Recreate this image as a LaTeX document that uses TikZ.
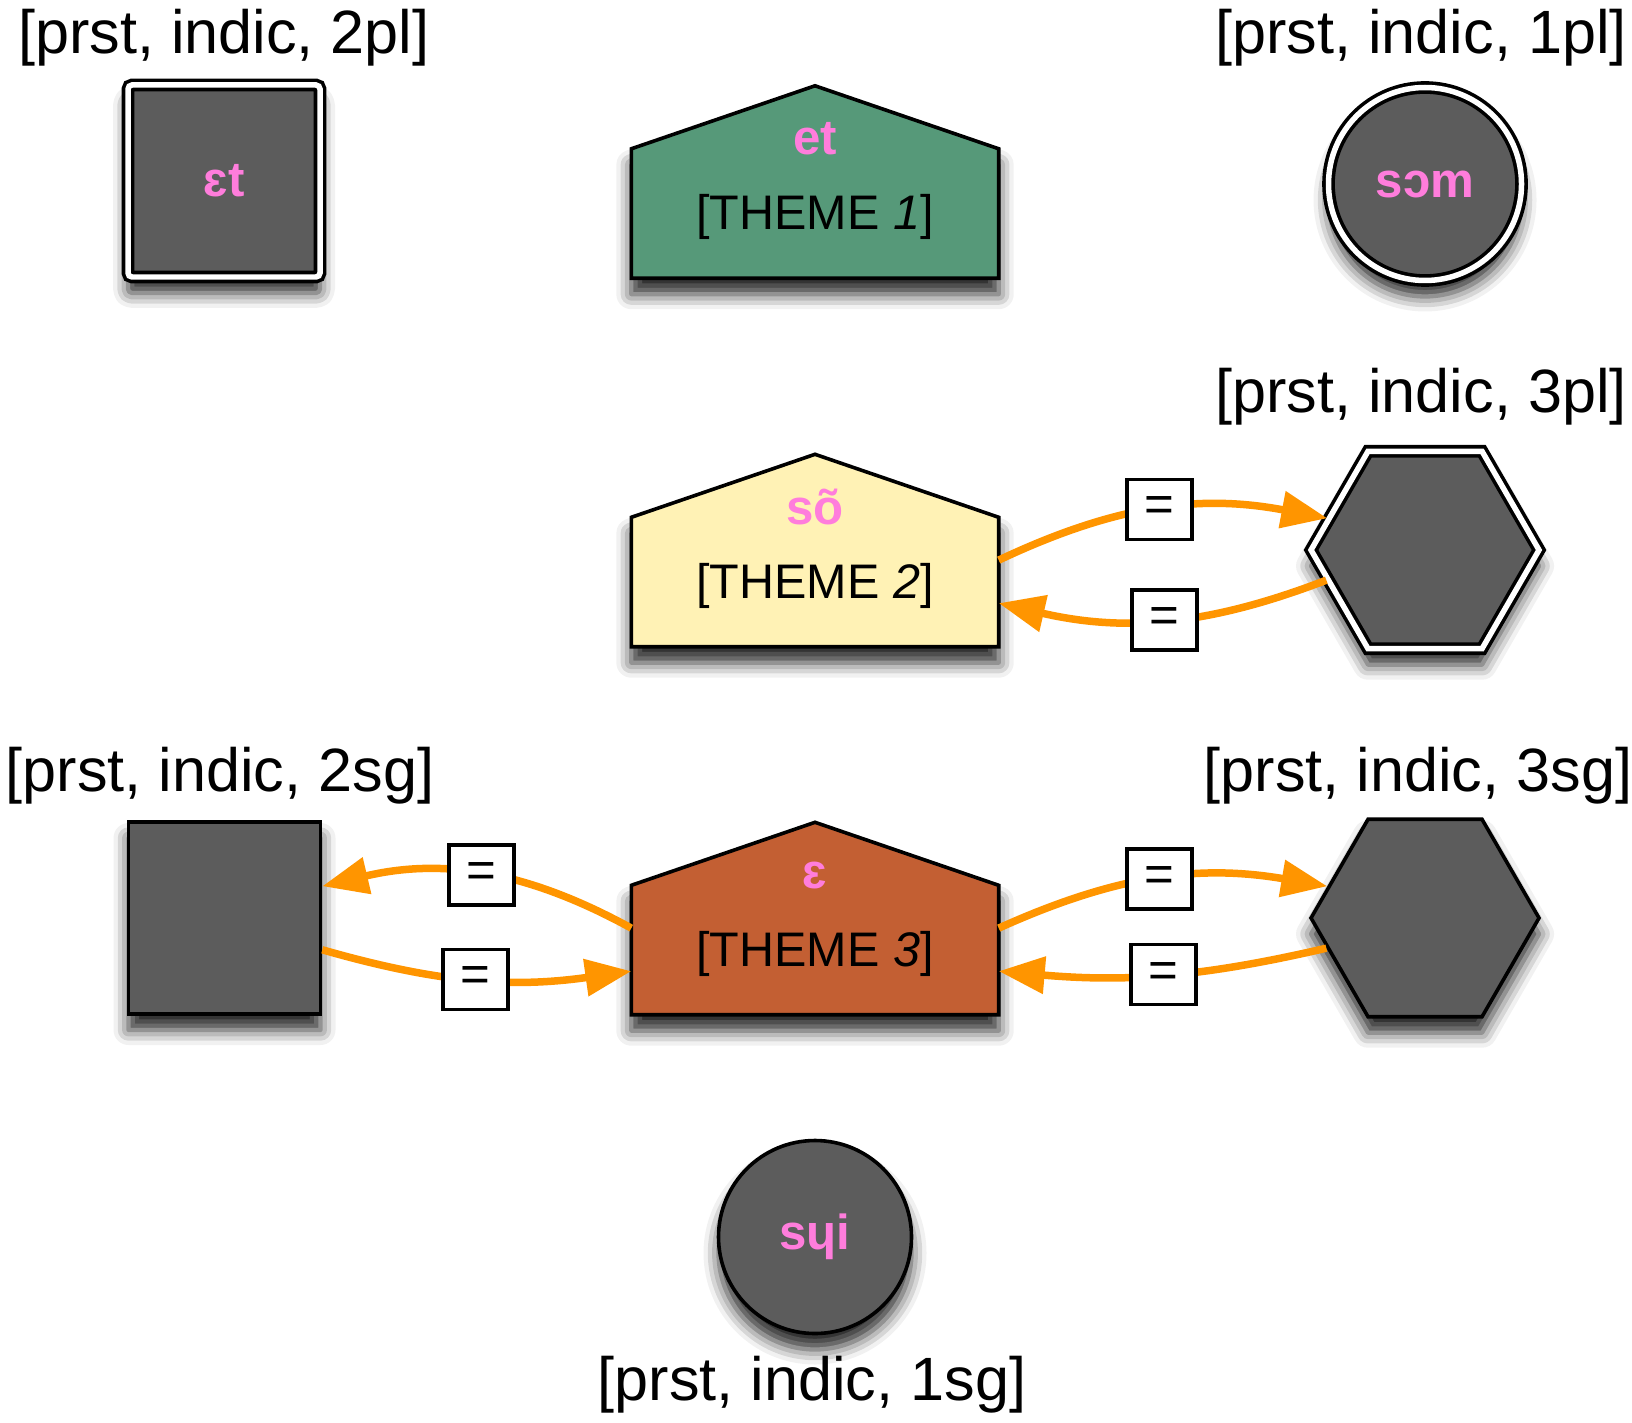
\documentclass[tikz,border=0pt]{standalone}
\usepackage{fontspec}
\setmainfont{Liberation Sans}
\usepackage{tikz}
\usetikzlibrary{arrows.meta,shapes.geometric,shadows.blur}

\definecolor{slate}{RGB}{92,92,92}
\definecolor{themegreen}{RGB}{86,153,121}
\definecolor{themeyellow}{RGB}{255,242,181}
\definecolor{themerust}{RGB}{195,95,51}
\definecolor{stempink}{RGB}{255,125,220}
\definecolor{linkorange}{RGB}{255,149,0}

\begin{document}
\begin{tikzpicture}[>={Triangle[length=4.6mm,width=3.6mm]},
		softshadow/.style={blur shadow={shadow xshift=0cm,shadow yshift=-0.16cm,shadow blur radius=0.15cm,shadow opacity=85}},
		cell/.style={draw=black,line width=0.036cm,fill=slate,inner sep=0pt,softshadow},
		twin/.style={double=white,double distance=0.055cm},
		block/.style={rectangle,cell,minimum width=1.92cm,minimum height=1.92cm},
		disc/.style={circle,cell,minimum size=1.93cm},
		hexa/.style={regular polygon,regular polygon sides=6,cell,minimum size=2.28cm},
		housebox/.style={rectangle,inner sep=0pt,minimum width=3.66cm,minimum height=1.91cm},
		house/.style={draw=black,line width=0.036cm,fill=#1,softshadow},
		stem/.style={text=stempink,font=\fontsize{14}{16}\selectfont\bfseries},
		themetext/.style={font=\fontsize{13.8}{16}\selectfont},
		feat/.style={font=\fontsize{17.4}{20}\selectfont},
		eqbox/.style={draw=black,line width=0.036cm,fill=white,minimum width=0.65cm,minimum height=0.60cm,inner sep=0pt,font=\fontsize{14.5}{16}\selectfont},
		linkarrow/.style={->,draw=linkorange,line width=0.075cm}]
		\useasboundingbox (0,0) rectangle (16.32,14.22);
		
		% top row
		\node[block,twin,rounded corners=0.04cm] (sq2pl) at (2.24,12.41) {\textcolor{stempink}{\bfseries\fontsize{14}{16}\selectfont ɛt}};
		\node[disc,twin] (circ1pl) at (14.25,12.38) {\textcolor{stempink}{\bfseries\fontsize{14}{16}\selectfont sɔm}};
		\node[housebox] (theme1) at (8.15,12.40) {};
		\draw[house=themegreen] (theme1.south west) -- (theme1.south east) -- ([yshift=-0.63cm]theme1.north east) -- (theme1.north) -- ([yshift=-0.63cm]theme1.north west) -- cycle;
		\node[stem] (stem1) at ([yshift=0.43cm]theme1.center) {et};
		\node[themetext] (name1) at ([yshift=-0.35cm]theme1.center) {[THEME \textit{1}]};
		
		% middle row
		\node[hexa,twin] (hex3pl) at (14.25,8.72) {};
		\node[housebox] (theme2) at (8.15,8.715) {};
		\draw[house=themeyellow] (theme2.south west) -- (theme2.south east) -- ([yshift=-0.63cm]theme2.north east) -- (theme2.north) -- ([yshift=-0.63cm]theme2.north west) -- cycle;
		\node[stem] (stem2) at ([yshift=0.43cm]theme2.center) {sõ};
		\node[themetext] (name2) at ([yshift=-0.35cm]theme2.center) {[THEME \textit{2}]};
		
		% bottom row
		\node[block] (sq2sg) at (2.245,5.04) {};
		\node[hexa] (hex3sg) at (14.25,5.04) {};
		\node[housebox] (theme3) at (8.15,5.035) {};
		\draw[house=themerust] (theme3.south west) -- (theme3.south east) -- ([yshift=-0.63cm]theme3.north east) -- (theme3.north) -- ([yshift=-0.63cm]theme3.north west) -- cycle;
		\node[stem] (stem3) at ([yshift=0.43cm]theme3.center) {ɛ};
		\node[themetext] (name3) at ([yshift=-0.35cm]theme3.center) {[THEME \textit{3}]};
		
		\node[disc] (circ1sg) at (8.15,1.85) {\textcolor{stempink}{\bfseries\fontsize{14}{16}\selectfont sɥi}};
		
		% cell labels
		\node[feat] (lab2pl) at (2.24,13.84) {[prst, indic, 2pl]};
		\node[feat] (lab1pl) at (14.21,13.84) {[prst, indic, 1pl]};
		\node[feat] (lab3pl) at (14.21,10.25) {[prst, indic, 3pl]};
		\node[feat] (lab2sg) at (2.20,6.46) {[prst, indic, 2sg]};
		\node[feat] (lab3sg) at (14.18,6.46) {[prst, indic, 3sg]};
		\node[feat] (lab1sg) at (8.12,0.37) {[prst, indic, 1sg]};
		
		% identity links
		\draw[linkarrow] (theme2.-3) to[bend left=18] node[eqbox] (eq2a) {=} (hex3pl.162);
		\draw[linkarrow] (hex3pl.197) to[bend left=17] node[eqbox] (eq2b) {=} (theme2.-16);
		\draw[linkarrow] (theme3.-3) to[bend left=17] node[eqbox] (eq3a) {=} (hex3sg.162);
		\draw[linkarrow] (hex3sg.197) to[bend left=9] node[eqbox] (eq3b) {=} (theme3.-16);
		\draw[linkarrow] (theme3.183) to[bend right=21] node[eqbox] (eq3c) {=} (sq2sg.18);
		\draw[linkarrow] (sq2sg.-18) to[bend right=12] node[eqbox] (eq3d) {=} (theme3.196);
\end{tikzpicture}
\end{document}
